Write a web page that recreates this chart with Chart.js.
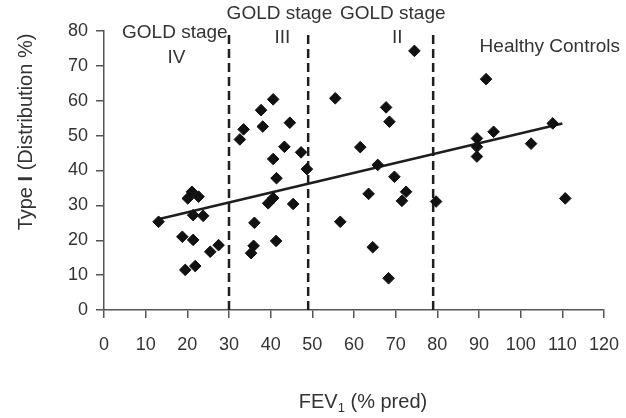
<!DOCTYPE html>
<html>
<head>
<meta charset="utf-8">
<script src="https://cdn.jsdelivr.net/npm/chart.js@4.4.1/dist/chart.umd.min.js"></script>
<style>
  html, body { margin: 0; padding: 0; background: #fff; }
  #contenedor { width: 626px; height: 418px; }
</style>
</head>
<body>
<div id="contenedor"><canvas id="myChart" width="626" height="418"></canvas></div>
<script>
//valores de cada paciente: FEV1 (% pred) y tipo I (distribucion %)
const fev1_pred = [
    13.1, 18.8, 19.5, 20.1, 21.1, 22.7, 21.4, 23.8, 21.4, 21.9, 25.5, 27.5,
    32.6, 33.5, 37.7, 38.1, 40.6, 44.6, 43.3, 47.3, 40.6, 48.7, 41.4, 39.4, 40.6, 45.4, 36.1, 35.9, 35.3, 41.3,
    55.5, 56.7, 61.5, 63.5, 64.5, 65.7, 67.7, 68.5, 68.3, 69.7, 71.5, 72.5, 74.5, 79.7,
    89.5, 89.5, 89.5, 91.7, 93.5, 102.5, 107.7, 110.7
]
const tipo_I = [
    25.3, 21.0, 11.5, 32.0, 33.9, 32.5, 27.2, 27.0, 20.1, 12.6, 16.7, 18.6,
    48.9, 51.8, 57.3, 52.6, 60.4, 53.7, 46.8, 45.2, 43.3, 40.4, 37.8, 30.6, 32.1, 30.4, 25.0, 18.4, 16.3, 19.8,
    60.7, 25.3, 46.7, 33.3, 18.0, 41.6, 58.1, 54.0, 9.1, 38.2, 31.3, 33.9, 74.3, 31.1,
    49.2, 46.8, 44.0, 66.2, 51.1, 47.7, 53.5, 32.0
]
//recta de tendencia (extremos)
const linea_fev1 = [13, 110]
const linea_tipo_I = [26, 53.5]
//limites entre estadios GOLD
const limites_gold = [30, 49, 79]
const ticks_x = [0, 10, 20, 30, 40, 50, 60, 70, 80, 90, 100, 110, 120]
const ticks_y = [0, 10, 20, 30, 40, 50, 60, 70, 80]
const textos_estadios = ['GOLD stage', 'IV', 'GOLD stage', 'III', 'GOLD stage', 'II', 'Healthy Controls']

const fuente = '"Liberation Sans", Arial, sans-serif'
const gris_texto = '#333'
const gris_eje = '#555'

const puntos = fev1_pred.map((x, i) => ({ x: x, y: tipo_I[i] }))
const tendencia = linea_fev1.map((x, i) => ({ x: x, y: linea_tipo_I[i] }))

const datasets = [{
    data: puntos,
    pointStyle: 'rectRot',
    pointRadius: 5.8,
    backgroundColor: '#111',
    borderColor: '#111',
    borderWidth: 1,
    showLine: false
}, {
    data: tendencia,
    showLine: true,
    pointRadius: 0,
    borderColor: '#1e1e1e',
    borderWidth: 2.5
}]
//una linea discontinua por cada limite
for (let lim of limites_gold) {
    datasets.push({
        data: [{ x: lim, y: ticks_y[0] }, { x: lim, y: ticks_y[ticks_y.length - 1] }],
        showLine: true,
        pointRadius: 0,
        borderColor: '#1e1e1e',
        borderWidth: 2.5,
        borderDash: [9, 5]
    })
}

//textos de los estadios y titulos de los ejes
const textosPlugin = {
    id: 'textos',
    afterDraw(chart) {
        const ctx = chart.ctx
        const xs = chart.scales.x
        ctx.save()
        ctx.fillStyle = gris_texto
        ctx.textAlign = 'center'
        ctx.textBaseline = 'middle'
        ctx.font = '19px ' + fuente
        const pos = [[17, 33], [17.4, 58], [42.1, 14], [42.8, 38], [69.3, 14], [70.4, 38], [107, 47]]
        textos_estadios.forEach((t, i) => {
            ctx.fillText(t, xs.getPixelForValue(pos[i][0]), pos[i][1])
        })

        //titulo eje x con subindice
        ctx.textAlign = 'left'
        ctx.font = '20px ' + fuente
        const a = 'FEV', c = ' (% pred)'
        const wa = ctx.measureText(a).width, wc = ctx.measureText(c).width
        ctx.font = '13px ' + fuente
        const wb = ctx.measureText('1').width
        let x0 = 363 - (wa + wb + wc) / 2
        ctx.font = '20px ' + fuente
        ctx.fillText(a, x0, 402)
        ctx.font = '13px ' + fuente
        ctx.fillText('1', x0 + wa, 408)
        ctx.font = '20px ' + fuente
        ctx.fillText(c, x0 + wa + wb, 402)

        //titulo eje y con la I en negrita
        ctx.translate(26, 132)
        ctx.rotate(-Math.PI / 2)
        const p1 = 'Type ', p2 = 'I', p3 = ' (Distribution %)'
        const w1 = ctx.measureText(p1).width, w3 = ctx.measureText(p3).width
        ctx.font = 'bold 20px ' + fuente
        const w2 = ctx.measureText(p2).width
        let y0 = -(w1 + w2 + w3) / 2
        ctx.font = '20px ' + fuente
        ctx.fillText(p1, y0, 0)
        ctx.font = 'bold 20px ' + fuente
        ctx.fillText(p2, y0 + w1, 0)
        ctx.font = '20px ' + fuente
        ctx.fillText(p3, y0 + w1 + w2, 0)
        ctx.restore()
    }
}

const config = {
    type: 'scatter',
    data: { datasets },
    options: {
        responsive: false,
        animation: false,
        devicePixelRatio: 1,
        layout: { padding: { top: 31, right: 22, left: 0, bottom: 0 } },
        plugins: { legend: { display: false }, tooltip: { enabled: false } },
        scales: {
            x: {
                type: 'linear',
                min: ticks_x[0],
                max: ticks_x[ticks_x.length - 1],
                afterBuildTicks: (s) => { s.ticks = ticks_x.map(v => ({ value: v })) },
                //alto fijo y sin margen extra por la ultima etiqueta
                afterFit: (s) => { s.height = 108; s.paddingLeft = 0; s.paddingRight = 0 },
                grid: { drawOnChartArea: false, drawTicks: true, tickLength: 8, color: gris_eje, lineWidth: 1.5 },
                border: { display: true, color: gris_eje, width: 1.5 },
                ticks: { color: gris_texto, font: { family: fuente, size: 18 }, padding: 16, maxRotation: 0 }
            },
            y: {
                type: 'linear',
                min: ticks_y[0],
                max: ticks_y[ticks_y.length - 1],
                afterBuildTicks: (s) => { s.ticks = ticks_y.map(v => ({ value: v })) },
                afterFit: (s) => { s.width = 104; s.paddingTop = 0; s.paddingBottom = 0 },
                grid: { drawOnChartArea: false, drawTicks: true, tickLength: 8, color: gris_eje, lineWidth: 1.5 },
                border: { display: true, color: gris_eje, width: 1.5 },
                ticks: { color: gris_texto, font: { family: fuente, size: 18 }, padding: 8 }
            }
        }
    },
    plugins: [textosPlugin]
}

let myChart = new Chart(document.getElementById('myChart'), config)
</script>
</body>
</html>
